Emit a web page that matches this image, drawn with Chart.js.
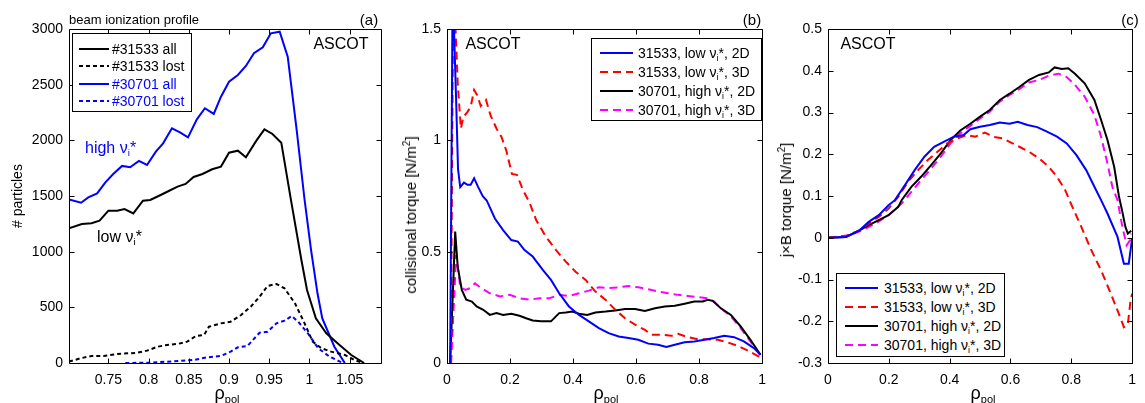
<!DOCTYPE html>
<html>
<head>
<meta charset="utf-8">
<script src="https://cdn.jsdelivr.net/npm/chart.js@4.4.0/dist/chart.umd.min.js"></script>
<style>
  body { margin: 0; background: #fff; font-family: "Liberation Sans", Arial, sans-serif; }
  #wrap { position: relative; width: 1145px; height: 403px; overflow: hidden; }
  .panel { position: absolute; top: 0; height: 403px; }
  .txt { position: absolute; white-space: nowrap; line-height: 1; color: #000; }
  .ctr { transform: translate(-50%, -50%); }
  .rot { transform: translate(-50%, -50%) rotate(-90deg); }
  .sb { font-size: 0.62em; vertical-align: -0.3em; }
  .legend { position: absolute; border: 1px solid #000; background: #fff; font-size: 14px; }
  .legend .row { position: absolute; left: 0; height: 16px; line-height: 16px; white-space: nowrap; }
  .legend svg { position: absolute; top: 6px; }
  .legend span.lab { position: absolute; top: 0; }
</style>
</head>
<body>
<div id="wrap">
  <div class="panel" style="left:0;width:390px"><canvas id="chartA"></canvas></div>
  <div class="panel" style="left:390px;width:385px"><canvas id="chartB"></canvas></div>
  <div class="panel" style="left:775px;width:370px"><canvas id="chartC"></canvas></div>
</div>
<script>
// panel (a): beam ionization profile
const aBlackAllX = [0.701,0.717,0.729,0.739,0.750,0.761,0.770,0.781,0.793,0.802,0.815,0.825,0.836,0.846,0.856,0.867,0.879,0.890,0.900,0.911,0.921,0.934,0.944,0.954,0.965,0.977,0.990,0.997,1.008,1.021,1.036,1.052,1.068];
const aBlackAllY = [1210,1248,1255,1278,1368,1368,1383,1344,1458,1464,1509,1545,1584,1608,1671,1698,1740,1764,1889,1907,1848,1997,2099,2057,1979,1465,925,656,401,267,170,72,0];
const aBlueAllX = [0.701,0.716,0.725,0.736,0.746,0.756,0.767,0.777,0.788,0.798,0.809,0.818,0.829,0.839,0.849,0.860,0.870,0.881,0.890,0.900,0.911,0.921,0.931,0.942,0.952,0.963,0.973,0.984,0.994,1.002,1.010,1.016,1.031,1.044];
const aBlueAllY = [1470,1440,1488,1524,1620,1698,1770,1758,1815,1779,1898,1973,2108,2072,2027,2189,2288,2237,2392,2527,2587,2668,2782,2836,2961,2976,2751,2100,1464,1015,626,401,146,0];
const aBlackLostX = [0.701,0.715,0.729,0.744,0.761,0.775,0.786,0.798,0.811,0.823,0.836,0.848,0.859,0.869,0.875,0.890,0.902,0.915,0.927,0.938,0.948,0.959,0.969,0.982,0.994,1.004,1.015,1.027,1.044,1.056,1.067];
const aBlackLostY = [12,42,63,63,81,87,92,111,146,162,171,192,243,252,326,356,371,431,506,596,692,710,671,536,356,192,132,102,72,27,0];
const aBlueLostX = [0.771,0.802,0.831,0.856,0.873,0.890,0.902,0.911,0.923,0.938,0.948,0.959,0.969,0.978,0.986,0.998,1.011,1.025,1.038,1.044];
const aBlueLostY = [0,3,15,27,51,63,102,141,153,272,281,356,380,422,371,267,132,57,12,0];
const aLabels = ["#31533 all", "#31533 lost", "#30701 all", "#30701 lost"];

// panel (b): collisional torque
const bBlueX = [0.010,0.018,0.029,0.035,0.042,0.054,0.065,0.075,0.086,0.099,0.113,0.126,0.152,0.178,0.204,0.225,0.246,0.272,0.304,0.330,0.356,0.387,0.419,0.450,0.482,0.513,0.545,0.576,0.607,0.639,0.670,0.696,0.723,0.754,0.785,0.817,0.848,0.880,0.911,0.942,0.974,0.995];
const bBlueY = [0,1.70,1.18,0.87,0.79,0.81,0.80,0.80,0.83,0.79,0.75,0.73,0.649,0.597,0.552,0.545,0.507,0.478,0.418,0.373,0.313,0.254,0.216,0.187,0.157,0.134,0.119,0.112,0.104,0.087,0.082,0.072,0.082,0.093,0.097,0.104,0.112,0.122,0.116,0.097,0.067,0.037];
const bRedX = [0.012,0.020,0.034,0.044,0.052,0.065,0.075,0.086,0.096,0.107,0.124,0.138,0.157,0.173,0.188,0.206,0.222,0.241,0.262,0.283,0.314,0.346,0.377,0.408,0.440,0.471,0.503,0.534,0.565,0.597,0.628,0.649,0.681,0.712,0.733,0.764,0.796,0.827,0.859,0.890,0.921,0.953,0.984,1.0];
const bRedY = [0,1.75,1.256,1.053,1.105,1.128,1.15,1.226,1.203,1.154,1.181,1.113,1.053,1.015,0.955,0.849,0.845,0.777,0.72,0.642,0.567,0.507,0.455,0.410,0.373,0.321,0.284,0.239,0.201,0.172,0.149,0.127,0.127,0.122,0.131,0.116,0.107,0.107,0.104,0.093,0.078,0.057,0.033,0.022];
const bBlackX = [0.010,0.026,0.034,0.047,0.061,0.079,0.094,0.115,0.136,0.157,0.178,0.204,0.230,0.251,0.272,0.298,0.330,0.356,0.377,0.398,0.419,0.445,0.471,0.503,0.534,0.565,0.597,0.628,0.660,0.691,0.723,0.754,0.785,0.812,0.827,0.843,0.869,0.901,0.932,0.963,0.995];
const bBlackY = [0,0.590,0.433,0.328,0.284,0.276,0.254,0.239,0.216,0.224,0.216,0.221,0.212,0.201,0.191,0.187,0.187,0.224,0.227,0.231,0.221,0.216,0.227,0.231,0.236,0.242,0.242,0.234,0.246,0.254,0.257,0.266,0.276,0.276,0.284,0.279,0.246,0.216,0.164,0.104,0.037];
const bMagX = [0.013,0.029,0.042,0.058,0.073,0.089,0.105,0.136,0.168,0.199,0.230,0.262,0.293,0.325,0.356,0.387,0.419,0.450,0.482,0.513,0.545,0.576,0.607,0.639,0.670,0.702,0.733,0.764,0.796,0.827,0.848,0.869,0.901,0.932,0.963,0.995];
const bMagY = [0,0.485,0.343,0.328,0.336,0.358,0.340,0.313,0.299,0.306,0.291,0.284,0.291,0.291,0.306,0.301,0.313,0.325,0.340,0.336,0.340,0.346,0.340,0.331,0.321,0.313,0.306,0.301,0.296,0.291,0.276,0.246,0.209,0.157,0.097,0.033];

// panel (c): j x B torque
const cBlueX = [0,0.059,0.102,0.134,0.167,0.199,0.220,0.253,0.285,0.317,0.349,0.382,0.414,0.446,0.468,0.500,0.532,0.565,0.597,0.624,0.656,0.688,0.720,0.753,0.785,0.817,0.849,0.876,0.898,0.919,0.952,0.973,0.989,1.0];
const cBlueY = [0,0.002,0.017,0.038,0.054,0.078,0.090,0.126,0.162,0.194,0.218,0.230,0.242,0.246,0.260,0.266,0.270,0.276,0.273,0.278,0.270,0.265,0.254,0.242,0.226,0.198,0.162,0.122,0.090,0.058,0.002,-0.062,-0.062,-0.002];
const cRedX = [0,0.059,0.102,0.134,0.167,0.199,0.231,0.263,0.296,0.328,0.360,0.392,0.425,0.457,0.484,0.516,0.543,0.575,0.602,0.629,0.661,0.694,0.726,0.753,0.780,0.801,0.833,0.866,0.898,0.930,0.952,0.973,0.986,0.995,1.0];
const cRedY = [0,0.004,0.017,0.034,0.050,0.070,0.098,0.134,0.162,0.186,0.206,0.226,0.238,0.246,0.242,0.252,0.242,0.238,0.228,0.218,0.206,0.190,0.170,0.146,0.114,0.078,0.026,-0.030,-0.078,-0.134,-0.174,-0.214,-0.207,-0.150,-0.134];
const cBlackX = [0,0.059,0.102,0.134,0.167,0.199,0.231,0.242,0.274,0.306,0.339,0.371,0.403,0.435,0.468,0.500,0.532,0.565,0.597,0.629,0.661,0.694,0.726,0.745,0.769,0.790,0.812,0.844,0.876,0.898,0.919,0.941,0.957,0.968,0.978,0.986,0.997];
const cBlackY = [0,0.002,0.017,0.030,0.042,0.054,0.074,0.090,0.122,0.146,0.174,0.202,0.234,0.257,0.273,0.290,0.306,0.330,0.345,0.361,0.378,0.390,0.396,0.408,0.404,0.406,0.393,0.370,0.330,0.282,0.234,0.170,0.098,0.062,0.026,0.010,0.017];
const cMagX = [0,0.070,0.113,0.156,0.199,0.242,0.274,0.306,0.339,0.371,0.403,0.435,0.468,0.500,0.532,0.565,0.597,0.629,0.661,0.694,0.726,0.758,0.785,0.812,0.844,0.876,0.898,0.919,0.935,0.952,0.968,0.982,0.993,0.997];
const cMagY = [0,0.006,0.018,0.034,0.054,0.082,0.110,0.138,0.166,0.194,0.226,0.250,0.268,0.286,0.302,0.326,0.342,0.356,0.372,0.378,0.388,0.393,0.385,0.366,0.338,0.294,0.242,0.178,0.122,0.090,0.026,-0.018,-0.006,0.010];

const nu = 'ν<span class="sb">i</span>*';
const bcLabels = [
  "31533, low " + nu + ", 2D",
  "31533, low " + nu + ", 3D",
  "30701, high " + nu + ", 2D",
  "30701, high " + nu + ", 3D",
];

const FONT = '"Liberation Sans", Arial, sans-serif';

const pts = (xs, ys) => xs.map((x, i) => ({ x: x, y: ys[i] }));
const fmt = (v) => String(+v.toFixed(3));

// box + inward ticks on all four sides (matlab look)
const frame = {
  id: "frame",
  afterDraw(chart) {
    const { ctx, chartArea: a } = chart;
    const sx = chart.scales.x;
    const sy = chart.scales.y;
    const L = 5;
    ctx.save();
    ctx.strokeStyle = "#000";
    ctx.lineWidth = 1;
    ctx.beginPath();
    const l = Math.round(a.left) + 0.5, r = Math.round(a.right) + 0.5;
    const t = Math.round(a.top) + 0.5, b = Math.round(a.bottom) + 0.5;
    ctx.rect(l, t, r - l, b - t);
    sx.ticks.forEach((tk) => {
      const p = Math.round(sx.getPixelForValue(tk.value)) + 0.5;
      ctx.moveTo(p, b); ctx.lineTo(p, b - L);
      ctx.moveTo(p, t); ctx.lineTo(p, t + L);
    });
    sy.ticks.forEach((tk) => {
      const p = Math.round(sy.getPixelForValue(tk.value)) + 0.5;
      ctx.moveTo(l, p); ctx.lineTo(l + L, p);
      ctx.moveTo(r, p); ctx.lineTo(r - L, p);
    });
    ctx.stroke();
    ctx.restore();
  },
};

function line(label, xs, ys, color, dash) {
  return {
    label: label,
    data: pts(xs, ys),
    borderColor: color,
    backgroundColor: color,
    borderWidth: 2,
    borderDash: dash || [],
    showLine: true,
    pointRadius: 0,
    fill: false,
    tension: 0,
  };
}

function makeChart(id, datasets, xr, yr, yWidth, rightPad) {
  const tickFont = { family: FONT, size: 14 };
  return new Chart(document.getElementById(id).getContext("2d"), {
    type: "scatter",
    data: { datasets: datasets },
    options: {
      responsive: true,
      maintainAspectRatio: false,
      animation: false,
      layout: { padding: { top: 29, right: rightPad, left: 0, bottom: 0 } },
      plugins: { legend: { display: false }, tooltip: { enabled: false } },
      scales: {
        x: {
          type: "linear",
          min: xr[0],
          max: xr[1],
          grid: { display: false, drawTicks: false },
          border: { display: false },
          ticks: { stepSize: xr[2], includeBounds: false, padding: 9, color: "#000", font: tickFont, maxRotation: 0, autoSkip: false, callback: fmt },
          afterFit: (s) => { s.height = 40; },
        },
        y: {
          type: "linear",
          min: yr[0],
          max: yr[1],
          grid: { display: false, drawTicks: false },
          border: { display: false },
          ticks: { stepSize: yr[2], includeBounds: false, padding: 6, color: "#000", font: tickFont, autoSkip: false, callback: fmt },
          afterFit: (s) => { s.width = yWidth; },
        },
      },
    },
    plugins: [frame],
  });
}

const chartA = makeChart("chartA", [
  line(aLabels[0], aBlackAllX, aBlackAllY, "#000000"),
  line(aLabels[1], aBlackLostX, aBlackLostY, "#000000", [4, 3]),
  line(aLabels[2], aBlueAllX, aBlueAllY, "#0000ff"),
  line(aLabels[3], aBlueLostX, aBlueLostY, "#0000ff", [4, 3]),
], [0.701, 1.089, 0.05], [0, 3000, 500], 69, 9);

const chartB = makeChart("chartB", [
  line(bcLabels[0], bBlueX, bBlueY, "#0000ff"),
  line(bcLabels[1], bRedX, bRedY, "#ff0000", [8, 5]),
  line(bcLabels[2], bBlackX, bBlackY, "#000000"),
  line(bcLabels[3], bMagX, bMagY, "#ff00ff", [8, 5]),
], [0, 1, 0.2], [0, 1.5, 0.5], 57, 10);

const chartC = makeChart("chartC", [
  line(bcLabels[0], cBlueX, cBlueY, "#0000ff"),
  line(bcLabels[1], cRedX, cRedY, "#ff0000", [8, 5]),
  line(bcLabels[2], cBlackX, cBlackY, "#000000"),
  line(bcLabels[3], cMagX, cMagY, "#ff00ff", [8, 5]),
], [0, 1, 0.2], [-0.3, 0.5, 0.1], 53, 7);

// html overlays: labels, annotations and in-axes legends
const wrap = document.getElementById("wrap");

function addText(html, x, y, size, cls, color) {
  const d = document.createElement("div");
  d.className = "txt " + (cls || "");
  d.style.left = x + "px";
  d.style.top = y + "px";
  d.style.fontSize = size + "px";
  if (color) d.style.color = color;
  d.innerHTML = html;
  wrap.appendChild(d);
}

function addLegend(chart, box, rowH, lineX, lineW, textX, textColors) {
  const d = document.createElement("div");
  d.className = "legend";
  d.style.left = box[0] + "px";
  d.style.top = box[1] + "px";
  d.style.width = box[2] + "px";
  d.style.height = box[3] + "px";
  chart.data.datasets.forEach((ds, i) => {
    const row = document.createElement("div");
    row.className = "row";
    row.style.top = (box[4] + i * rowH) + "px";
    const dash = ds.borderDash.length ? ' stroke-dasharray="' + ds.borderDash.join(",") + '"' : "";
    row.innerHTML =
      '<svg width="' + lineW + '" height="4" style="left:' + lineX + 'px"><line x1="0" y1="2" x2="' + lineW +
      '" y2="2" stroke="' + ds.borderColor + '" stroke-width="2"' + dash + '/></svg>' +
      '<span class="lab" style="left:' + textX + 'px;color:' + (textColors ? textColors[i] : "#000") + '">' + ds.label + "</span>";
    d.appendChild(row);
  });
  wrap.appendChild(d);
}

const rho = 'ρ<span class="sb" style="font-size:11px;vertical-align:-4px">pol</span>';

// panel a
addText("beam ionization profile", 69, 13, 13);
addText("(a)", 369, 19, 15, "ctr");
addText("ASCOT", 341, 44, 16, "ctr");
addText("high " + nu, 85, 140, 16, "", "#0000ff");
addText("low " + nu, 97, 229, 16);
addText("# particles", 17, 196, 14, "rot");
addText(rho, 227, 394, 18, "ctr");
addLegend(chartA, [72, 33, 118, 77, 7], 17.3, 6, 30, 39, ["#000", "#000", "#0000ff", "#0000ff"]);

// panel b
addText("(b)", 752, 19, 15, "ctr");
addText("ASCOT", 493, 44, 16, "ctr");
addText("collisional torque [N/m<sup style='font-size:10px'>2</sup>]", 410, 215, 15, "rot");
addText(rho, 606, 394, 18, "ctr");
addLegend(chartB, [591, 38, 169, 81, 6], 18.9, 8, 33, 46);

// panel c
addText("(c)", 1130, 19, 15, "ctr");
addText("ASCOT", 868, 44, 16, "ctr");
addText("j×B torque [N/m<sup style='font-size:10px'>2</sup>]", 785, 200, 15, "rot");
addText(rho, 983, 394, 18, "ctr");
addLegend(chartC, [836, 273, 167, 82, 6], 18.9, 8, 33, 47);
</script>
</body>
</html>
